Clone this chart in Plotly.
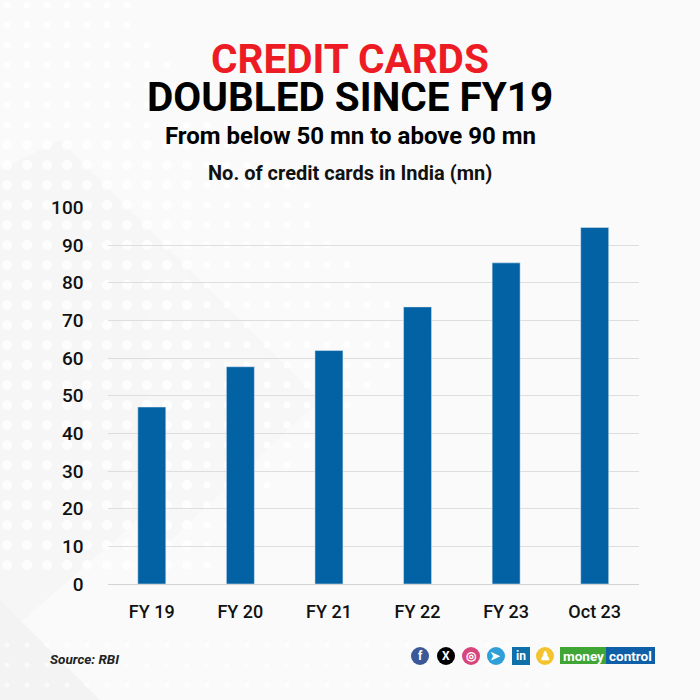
import plotly.graph_objects as go

categories = ["FY 19", "FY 20", "FY 21", "FY 22", "FY 23", "Oct 23"]
values = [47.0, 57.7, 62.0, 73.6, 85.3, 94.7]
ticks = list(range(0, 101, 10))
font = "Roboto"


def px(v):
    return v / 700


def py(v):
    return 1 - v / 700


shapes = []
# soft background facets (decorative)
for pts, col in [
    ("M 0 170 L 60 140 L 300 380 L 0 640 Z", "#f6f6f6"),
    ("M 0 600 L 100 700 L 0 700 Z", "#f3f3f3"),
    ("M 150 240 L 320 400 L 150 560 Z", "#f7f7f7"),
]:
    parts = pts.split()
    out = []
    i = 0
    while i < len(parts):
        if parts[i] in "ML":
            out += [parts[i], str(px(float(parts[i + 1]))), str(py(float(parts[i + 2])))]
            i += 3
        else:
            out.append(parts[i])
            i += 1
    shapes.append(dict(type="path", path=" ".join(out), xref="paper", yref="paper",
                       fillcolor=col, line_width=0, layer="below"))

# halftone dots (decorative)
for row in range(0, 35):
    for col in range(0, 30):
        cx = 20 * col + 7
        cy = 20 * row + 5
        if cy <= 570:
            if cx + abs(cy - 330) * 0.9 > 420:
                continue
            r = 5 if (cx < 200 and cy > 130) else 3.5
            op = 0.8
        else:
            if cy < 640 or cx > 560:
                continue
            r = 2.5
            op = 0.6
        shapes.append(dict(type="circle", xref="paper", yref="paper", layer="below",
                           x0=px(cx - r), x1=px(cx + r), y0=py(cy + r), y1=py(cy - r),
                           fillcolor="#ffffff", line_width=0, opacity=op))

icons = [(420, "#3b5998", "f"), (446, "#000000", "X"), (471, "#d6457c", "◎"),
         (496, "#2f9fd8", "➤"), (521, "#0f6fa8", "in"), (545, "#f4c430", "♟")]
notes = []
for cx, col, t in icons:
    shapes.append(dict(type="rect" if t == "in" else "circle", xref="paper", yref="paper",
                       x0=px(cx - 9), x1=px(cx + 9), y0=py(656 + 9), y1=py(656 - 9),
                       fillcolor=col, line_width=0))
    notes.append(dict(text=f"<b>{t}</b>", x=cx, y=656, font=dict(family=font, size=12, color="#fff")))
shapes.append(dict(type="rect", xref="paper", yref="paper", x0=px(560), x1=px(607), y0=py(664), y1=py(647),
                   fillcolor="#3fa535", line_width=0))
shapes.append(dict(type="rect", xref="paper", yref="paper", x0=px(606), x1=px(655), y0=py(664), y1=py(647),
                   fillcolor="#0f5ea8", line_width=0))

fig = go.Figure(go.Bar(x=categories, y=values, marker_color="#0262a3", width=0.316))
fig.update_layout(
    width=700, height=700, paper_bgcolor="#fafafa", plot_bgcolor="rgba(0,0,0,0)",
    margin=dict(l=0, r=0, t=0, b=0), showlegend=False, shapes=shapes,
    xaxis=dict(domain=[px(107.5), px(639)], automargin=False,
               tickfont=dict(family=font, size=18, color="#111", weight=500),
               ticks="", showline=True, linecolor="#d4d4d4", anchor="y", ticklabelstandoff=11),
    yaxis=dict(domain=[py(584), py(207.5)], automargin=False, range=[0, 100], tickvals=ticks,
               tickfont=dict(family=font, size=19, color="#111", weight=500), gridcolor="#dedede", gridwidth=1,
               zeroline=False, ticks="", ticklabelstandoff=23),
    annotations=notes + [
        dict(text="<b>CREDIT CARDS</b>", x=350, y=59, font=dict(family=font, size=40.5, color="#ed1c24")),
        dict(text="<b>DOUBLED SINCE FY19</b>", x=350, y=97, font=dict(family=font, size=40.5, color="#000")),
        dict(text="<b>From below 50 mn to above 90 mn</b>", x=350, y=136, font=dict(family=font, size=24, color="#000")),
        dict(text="<b>No. of credit cards in India (mn)</b>", x=350, y=173, font=dict(family=font, size=20, color="#111")),
        dict(text="<b><i>Source: RBI</i></b>", x=84, y=659, font=dict(family=font, size=13.5, color="#222")),
        dict(text="<b>money</b>", x=583, y=655.5, font=dict(family=font, size=13.5, color="#fff")),
        dict(text="<b>control</b>", x=630, y=655.5, font=dict(family=font, size=13.5, color="#fff")),
    ],
)
for a in fig.layout.annotations:
    a.update(xref="paper", yref="paper", x=a.x / 700, y=1 - a.y / 700, xanchor="center", yanchor="middle",
             showarrow=False)
fig.write_html("out.html", config={"displayModeBar": False},
               post_script="document.body.style.margin='0';document.documentElement.style.overflow='hidden';")
